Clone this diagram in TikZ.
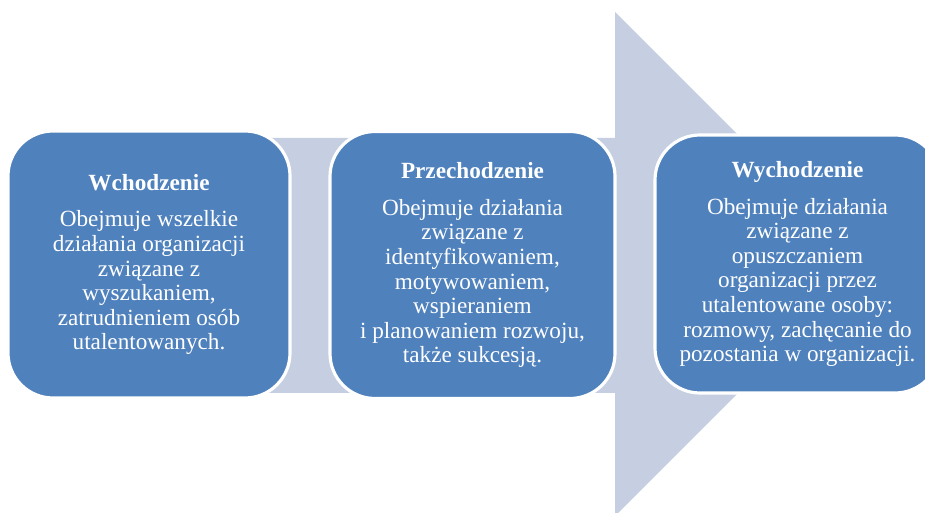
\documentclass[tikz,border=0pt]{standalone}
\usepackage{fontspec}
\setmainfont{Liberation Serif}
\usepackage{tikz}
\usepackage{xcolor}
\usetikzlibrary{positioning,calc}
\definecolor{stage}   {HTML}{4F81BD}
\definecolor{flow}    {HTML}{C6CFE1}
\tikzset{
  stagebox/.style ={draw=white, fill=stage, line width=1.8pt,
                    rounded corners=0.9cm, text=white,
                    minimum width=5.7cm, minimum height=5.34cm,
                    align=center, inner sep=2pt,
                    font=\fontsize{13.2}{14}\selectfont},
  flowarr/.style  ={fill=flow, draw=none},
}

\begin{document}
\begin{tikzpicture}[x=1cm,y=1cm]
  \clip (0,0) rectangle (18.5,-10.26);
  % big background arrow
  \path[flowarr] (2,-2.76) -- (12.3,-2.76) -- (12.3,-0.24) -- (17.34,-5.28)
    -- (12.3,-10.32) -- (12.3,-7.86) -- (2,-7.86) -- cycle;
  \node[stagebox,minimum width=5.64cm] (in) at (2.98,-5.29)
    {\textbf{Wchodzenie}\\[7pt]
     Obejmuje wszelkie\\
     działania organizacji\\
     związane z\\
     wyszukaniem,\\
     zatrudnieniem osób\\
     utalentowanych.};
  \node[stagebox] (mid) at (9.45,-5.3)
    {\textbf{Przechodzenie}\\[7pt]
     Obejmuje działania\\
     związane z\\
     identyfikowaniem,\\
     motywowaniem,\\
     wspieraniem\\
     i planowaniem rozwoju,\\
     także sukcesją.};
  \node[stagebox,minimum height=5.16cm] (out) at (15.95,-5.28)
    {\textbf{Wychodzenie}\\[7pt]
     Obejmuje działania\\
     związane z\\
     opuszczaniem\\
     organizacji przez\\
     utalentowane osoby:\\
     rozmowy, zachęcanie do\\
     pozostania w organizacji.};
\end{tikzpicture}
\end{document}
